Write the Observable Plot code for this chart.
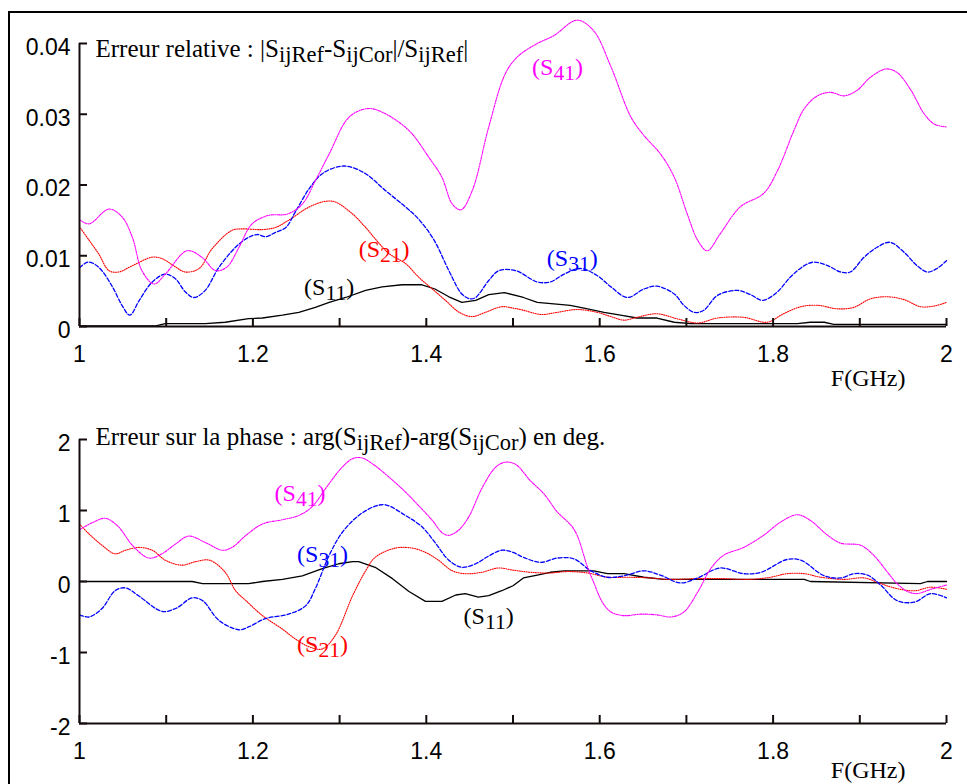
<!DOCTYPE html>
<html>
<head>
<meta charset="utf-8">
<script src="https://cdn.jsdelivr.net/npm/d3@7"></script>
<script src="https://cdn.jsdelivr.net/npm/@observablehq/plot@0.6"></script>
<style>
html,body{margin:0;padding:0;background:#fff;overflow:hidden;width:967px;height:784px;}
#frame{position:absolute;left:8px;top:11px;width:1000px;height:820px;border-left:2px solid #000;border-top:2px solid #000;}
#top,#bottom{position:absolute;left:0;}
#top{top:0px;}
#bottom{top:400px;}
svg{display:block;}
</style>
</head>
<body>
<div id="frame"></div>
<div id="top"></div>
<div id="bottom"></div>
<script>
// ---------- axes ----------
const xDomain = [1, 2];
const xTickMarks = [1, 1.1, 1.2, 1.3, 1.4, 1.5, 1.6, 1.7, 1.8, 1.9, 2];
const xTickLabels = [1, 1.2, 1.4, 1.6, 1.8, 2];
const relYDomain = [0, 0.04];
const relYTicks = [0, 0.01, 0.02, 0.03, 0.04];
const phaseYDomain = [-2, 2];
const phaseYTicks = [-2, -1, 0, 1, 2];
const seriesNames = ["S11", "S21", "S31", "S41"];

// ---------- texts ----------
const relTitle = "Erreur relative : |S_ijRef-S_ijCor|/S_ijRef|";
const phaseTitle = "Erreur sur la phase : arg(S_ijRef)-arg(S_ijCor) en deg.";
const xLabel = "F(GHz)";
const labelText = ["(S_11)", "(S_21)", "(S_31)", "(S_41)"];
const relLabelF = [1.259, 1.322, 1.539, 1.522];
const relLabelV = [0.0056, 0.0109, 0.0097, 0.0366];
const phaseLabelF = [1.443, 1.251, 1.251, 1.225];
const phaseLabelV = [-0.487, -0.887, 0.38, 1.249];

// ---------- relative error [F GHz, value] ----------
const relS11 = [[1.000,0.0001],[1.088,0.0001],[1.099,0.0004],[1.145,0.0004],[1.168,0.0006],[1.195,0.0011],[1.211,0.0012],[1.234,0.0016],[1.253,0.0020],[1.272,0.0027],[1.288,0.0034],[1.307,0.0041],[1.330,0.0051],[1.349,0.0056],[1.372,0.0059],[1.395,0.0059],[1.410,0.0053],[1.426,0.0042],[1.441,0.0034],[1.457,0.0037],[1.472,0.0045],[1.490,0.0048],[1.512,0.0041],[1.528,0.0034],[1.547,0.0032],[1.566,0.0030],[1.586,0.0025],[1.605,0.0020],[1.624,0.0016],[1.643,0.0012],[1.666,0.0012],[1.686,0.0006],[1.705,0.0004],[1.828,0.0004],[1.843,0.0006],[1.859,0.0006],[1.870,0.0003],[2.000,0.0003]];
const relS21 = [[1.000,0.0141],[1.011,0.0122],[1.022,0.0103],[1.034,0.0079],[1.045,0.0077],[1.061,0.0086],[1.084,0.0098],[1.095,0.0096],[1.111,0.0084],[1.122,0.0077],[1.138,0.0082],[1.153,0.0110],[1.176,0.0136],[1.188,0.0138],[1.211,0.0137],[1.226,0.0140],[1.241,0.0150],[1.265,0.0169],[1.284,0.0177],[1.295,0.0176],[1.315,0.0159],[1.330,0.0140],[1.341,0.0124],[1.357,0.0103],[1.376,0.0089],[1.391,0.0070],[1.407,0.0053],[1.422,0.0037],[1.438,0.0020],[1.453,0.0014],[1.468,0.0020],[1.487,0.0028],[1.500,0.0026],[1.512,0.0023],[1.532,0.0017],[1.551,0.0020],[1.574,0.0024],[1.597,0.0020],[1.613,0.0014],[1.628,0.0009],[1.643,0.0013],[1.666,0.0018],[1.689,0.0011],[1.713,0.0005],[1.736,0.0012],[1.766,0.0013],[1.793,0.0006],[1.812,0.0018],[1.832,0.0028],[1.851,0.0030],[1.874,0.0025],[1.893,0.0027],[1.912,0.0039],[1.932,0.0042],[1.951,0.0038],[1.970,0.0028],[1.986,0.0029],[2.000,0.0034]];
const relS31 = [[1.000,0.0083],[1.010,0.0091],[1.022,0.0084],[1.038,0.0056],[1.049,0.0030],[1.058,0.0016],[1.069,0.0037],[1.084,0.0063],[1.099,0.0074],[1.111,0.0067],[1.122,0.0049],[1.132,0.0041],[1.145,0.0051],[1.160,0.0082],[1.180,0.0112],[1.195,0.0126],[1.205,0.0130],[1.215,0.0127],[1.226,0.0133],[1.238,0.0140],[1.249,0.0162],[1.265,0.0195],[1.280,0.0216],[1.299,0.0226],[1.311,0.0226],[1.330,0.0216],[1.353,0.0192],[1.376,0.0169],[1.391,0.0152],[1.409,0.0122],[1.426,0.0079],[1.441,0.0046],[1.451,0.0039],[1.457,0.0041],[1.472,0.0065],[1.484,0.0079],[1.503,0.0079],[1.528,0.0063],[1.543,0.0063],[1.559,0.0074],[1.578,0.0082],[1.597,0.0072],[1.613,0.0056],[1.632,0.0041],[1.651,0.0053],[1.666,0.0057],[1.686,0.0046],[1.697,0.0030],[1.709,0.0020],[1.720,0.0023],[1.736,0.0044],[1.759,0.0051],[1.774,0.0045],[1.788,0.0037],[1.805,0.0049],[1.820,0.0070],[1.836,0.0086],[1.847,0.0091],[1.863,0.0086],[1.878,0.0077],[1.889,0.0077],[1.905,0.0098],[1.920,0.0112],[1.935,0.0119],[1.951,0.0105],[1.966,0.0086],[1.978,0.0077],[1.989,0.0082],[2.000,0.0093]];
const relS41 = [[1.000,0.0151],[1.011,0.0145],[1.034,0.0166],[1.049,0.0155],[1.061,0.0126],[1.072,0.0079],[1.086,0.0060],[1.099,0.0074],[1.124,0.0107],[1.141,0.0098],[1.157,0.0079],[1.170,0.0084],[1.184,0.0112],[1.199,0.0145],[1.218,0.0157],[1.240,0.0159],[1.257,0.0173],[1.272,0.0206],[1.288,0.0244],[1.311,0.0296],[1.332,0.0308],[1.349,0.0303],[1.380,0.0277],[1.403,0.0239],[1.418,0.0211],[1.430,0.0173],[1.440,0.0165],[1.453,0.0192],[1.472,0.0282],[1.491,0.0357],[1.505,0.0381],[1.528,0.0400],[1.547,0.0411],[1.574,0.0433],[1.593,0.0418],[1.613,0.0367],[1.636,0.0296],[1.651,0.0270],[1.670,0.0244],[1.686,0.0211],[1.701,0.0159],[1.713,0.0122],[1.724,0.0107],[1.739,0.0131],[1.762,0.0169],[1.789,0.0188],[1.805,0.0220],[1.824,0.0277],[1.836,0.0308],[1.851,0.0326],[1.866,0.0331],[1.882,0.0326],[1.897,0.0334],[1.912,0.0352],[1.930,0.0364],[1.943,0.0359],[1.959,0.0334],[1.974,0.0301],[1.986,0.0286],[2.000,0.0282]];

// ---------- phase error (deg) [F GHz, value] ----------
const phS11 = [[1.000,0],[1.130,0],[1.142,-0.03],[1.195,-0.03],[1.211,0],[1.234,0.03],[1.257,0.08],[1.280,0.18],[1.299,0.25],[1.315,0.28],[1.322,0.28],[1.341,0.20],[1.361,0.04],[1.380,-0.14],[1.399,-0.28],[1.418,-0.28],[1.434,-0.19],[1.445,-0.17],[1.460,-0.22],[1.472,-0.20],[1.487,-0.13],[1.500,-0.06],[1.512,0.05],[1.528,0.09],[1.543,0.13],[1.559,0.15],[1.593,0.15],[1.609,0.11],[1.628,0.11],[1.651,0.06],[1.674,0.03],[1.836,0.03],[1.843,0],[1.970,-0.03],[1.978,0],[2.000,0]];
const phS21 = [[1.000,0.81],[1.011,0.67],[1.026,0.51],[1.041,0.39],[1.053,0.44],[1.068,0.48],[1.084,0.44],[1.099,0.30],[1.118,0.23],[1.134,0.28],[1.150,0.30],[1.168,0.13],[1.180,-0.13],[1.192,-0.27],[1.211,-0.48],[1.234,-0.67],[1.249,-0.81],[1.265,-0.92],[1.280,-0.95],[1.295,-0.76],[1.315,-0.20],[1.330,0.15],[1.341,0.34],[1.364,0.47],[1.384,0.47],[1.399,0.41],[1.414,0.30],[1.430,0.15],[1.445,0.11],[1.464,0.13],[1.483,0.19],[1.500,0.16],[1.520,0.13],[1.543,0.12],[1.563,0.14],[1.586,0.12],[1.609,0.06],[1.632,0.06],[1.659,0.05],[1.678,0.03],[1.713,0.04],[1.743,0.04],[1.774,0.03],[1.797,0.06],[1.816,0.11],[1.836,0.11],[1.855,0.06],[1.882,0.03],[1.905,0.05],[1.924,-0.03],[1.943,-0.10],[1.963,-0.13],[1.982,-0.08],[2.000,-0.11]];
const phS31 = [[1.000,-0.47],[1.011,-0.50],[1.026,-0.38],[1.041,-0.13],[1.053,-0.09],[1.068,-0.20],[1.095,-0.42],[1.111,-0.38],[1.130,-0.23],[1.142,-0.27],[1.161,-0.55],[1.184,-0.68],[1.195,-0.64],[1.215,-0.52],[1.241,-0.46],[1.261,-0.34],[1.272,-0.10],[1.288,0.37],[1.303,0.69],[1.322,0.93],[1.341,1.06],[1.353,1.08],[1.376,0.93],[1.395,0.77],[1.410,0.55],[1.426,0.30],[1.441,0.20],[1.457,0.25],[1.472,0.36],[1.487,0.44],[1.500,0.41],[1.512,0.34],[1.532,0.27],[1.551,0.33],[1.570,0.32],[1.590,0.15],[1.609,0.06],[1.628,0.08],[1.651,0.15],[1.670,0.09],[1.693,-0.02],[1.713,0.05],[1.739,0.19],[1.766,0.11],[1.786,0.13],[1.816,0.31],[1.832,0.30],[1.859,0.08],[1.878,0.05],[1.893,0.11],[1.909,0.09],[1.924,-0.05],[1.943,-0.27],[1.963,-0.29],[1.982,-0.17],[2.000,-0.23]];
const phS41 = [[1.000,0.73],[1.015,0.83],[1.030,0.89],[1.045,0.77],[1.061,0.51],[1.080,0.33],[1.095,0.39],[1.111,0.53],[1.126,0.64],[1.145,0.55],[1.165,0.44],[1.176,0.48],[1.192,0.65],[1.211,0.81],[1.234,0.87],[1.253,0.93],[1.268,1.05],[1.288,1.38],[1.303,1.61],[1.315,1.73],[1.326,1.74],[1.341,1.63],[1.357,1.47],[1.376,1.26],[1.391,1.07],[1.407,0.86],[1.418,0.69],[1.426,0.65],[1.437,0.72],[1.449,0.91],[1.464,1.31],[1.480,1.61],[1.491,1.68],[1.503,1.65],[1.520,1.42],[1.536,1.23],[1.551,0.98],[1.567,0.79],[1.574,0.65],[1.586,0.20],[1.593,-0.01],[1.603,-0.29],[1.613,-0.43],[1.628,-0.48],[1.647,-0.46],[1.666,-0.47],[1.682,-0.50],[1.697,-0.43],[1.713,-0.15],[1.728,0.18],[1.743,0.37],[1.766,0.48],[1.789,0.65],[1.809,0.84],[1.828,0.94],[1.843,0.86],[1.863,0.65],[1.878,0.54],[1.901,0.51],[1.916,0.37],[1.932,0.13],[1.943,-0.03],[1.955,-0.14],[1.966,-0.17],[1.982,-0.11],[2.000,-0.05]];

// ---------- styling ----------
const serif = "'Liberation Serif', 'Times New Roman', Times, serif";
const sans = "'Liberation Sans', Arial, Helvetica, sans-serif";
const axisColor = "#140c0c";
const styles = {
  S11: {stroke: "#000000", w: 1.3, dash: null, curve: "linear"},
  S21: {stroke: "#ff0000", w: 1.1, dash: "1,1.3", curve: "catmull-rom"},
  S31: {stroke: "#0000ff", w: 1.3, dash: "4,2", curve: "catmull-rom"},
  S41: {stroke: "#ff00ff", w: 1.1, dash: "2.5,1.2,1,1.2", curve: "catmull-rom"}
};

function applySubscripts(svg) {
  d3.select(svg).selectAll("text").each(function () {
    const s = this.textContent;
    if (!s.includes("_")) return;
    const el = d3.select(this);
    el.text(null);
    const parts = s.split(/_([A-Za-z0-9]+)/);
    let shifted = false;
    parts.forEach((p, i) => {
      if (p === "") return;
      const sp = el.append("tspan").text(p);
      if (i % 2 === 1) { sp.attr("dy", 5).attr("font-size", "0.9em"); shifted = true; }
      else if (shifted) { sp.attr("dy", -5); shifted = false; }
    });
  });
}

function panel(o) {
  const lineMarks = seriesNames.map((n, i) => Plot.line(o.series[i], {
    x: d => d[0], y: d => d[1], stroke: styles[n].stroke, strokeWidth: styles[n].w,
    strokeDasharray: styles[n].dash, curve: styles[n].curve
  }));
  const labelMarks = seriesNames.map((n, i) => Plot.text([{t: labelText[i], f: o.labelF[i], v: o.labelV[i]}], {
    x: "f", y: "v", text: "t", fill: styles[n].stroke, textAnchor: "start",
    fontFamily: serif, fontSize: 24
  }));
  const svg = Plot.plot({
    width: 967, height: 400,
    marginLeft: 79, marginRight: 21, marginTop: o.mt, marginBottom: o.mb,
    x: {domain: xDomain}, y: {domain: o.yDomain},
    style: {fontFamily: sans, fontSize: "23px", color: "#000", background: "none", overflow: "visible"},
    marks: [
      ...lineMarks,
      Plot.ruleY([o.yDomain[0]], {stroke: axisColor, strokeWidth: 2}),
      Plot.ruleX([xDomain[0]], {stroke: axisColor, strokeWidth: 2}),
      Plot.axisX({ticks: xTickMarks, tickSize: 8, dy: -8, fill: "none", stroke: axisColor, strokeWidth: 2, label: null}),
      Plot.axisX({ticks: xTickLabels, tickSize: 0, tickPadding: 19, tickFormat: d => String(d), fontSize: 23, fontFamily: sans, label: null}),
      Plot.axisY({ticks: o.yTicks, tickSize: 8, dx: 8, fill: "none", stroke: axisColor, strokeWidth: 2, label: null}),
      Plot.axisY({ticks: o.yTicks, tickSize: 0, tickPadding: 9, tickFormat: d => String(d), dy: 4, fontSize: 23, fontFamily: sans, label: null}),
      ...labelMarks,
      Plot.text([o.title], {frameAnchor: "top-left", dx: 16, dy: o.titleDy, textAnchor: "start", lineAnchor: "top", fontFamily: serif, fontSize: 25, fill: "#000"}),
      Plot.text([xLabel], {frameAnchor: "bottom-right", dx: -41, dy: o.xLabelDy, textAnchor: "end", lineAnchor: "bottom", fontFamily: serif, fontSize: 24, fill: "#000"})
    ]
  });
  applySubscripts(svg);
  return svg;
}

document.getElementById("top").append(panel({
  mt: 43, mb: 74, yDomain: relYDomain, yTicks: relYTicks,
  series: [relS11, relS21, relS31, relS41],
  labelF: relLabelF, labelV: relLabelV, title: relTitle, titleDy: -4, xLabelDy: 59
}));
document.getElementById("bottom").append(panel({
  mt: 39, mb: 77, yDomain: phaseYDomain, yTicks: phaseYTicks,
  series: [phS11, phS21, phS31, phS41],
  labelF: phaseLabelF, labelV: phaseLabelV, title: phaseTitle, titleDy: -12, xLabelDy: 54
}));
</script>
</body>
</html>
